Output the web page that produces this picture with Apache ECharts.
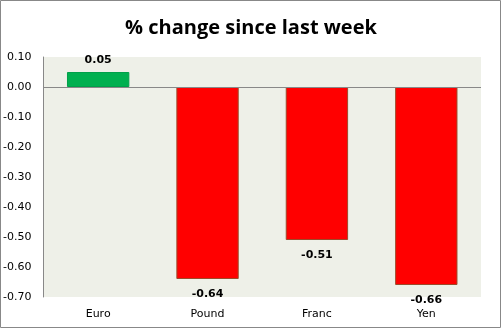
<!DOCTYPE html>
<html>
<head>
<meta charset="utf-8">
<script src="https://cdn.jsdelivr.net/npm/echarts@6/dist/echarts.min.js"></script>
<style>
html,body{margin:0;padding:0;background:#fff;}
#c{width:502px;height:329px;}
</style>
</head>
<body>
<div id="c"></div>
<script>
var categories = ['Euro', 'Pound', 'Franc', 'Yen'];
var values = [0.05, -0.64, -0.51, -0.66];
var yTicks = [0.10, 0.00, -0.10, -0.20, -0.30, -0.40, -0.50, -0.60, -0.70];

var chart = echarts.init(document.getElementById('c'), null, {renderer: 'canvas'});
var data = values.map(function (v) {
  var pos = v >= 0;
  return {
    value: v,
    itemStyle: {
      color: pos ? '#00B050' : '#FF0000',
      borderColor: pos ? '#00A04A' : '#9C4A2A',
      borderWidth: 1
    },
    label: {position: pos ? 'top' : 'bottom', distance: pos ? 6 : 10}
  };
});
chart.setOption({
  animation: false,
  title: {
    text: '% change since last week',
    left: 'center',
    top: 13,
    textStyle: {fontFamily: 'Open Sans', fontWeight: 'bold', fontSize: 20, color: '#000'}
  },
  graphic: [{
    type: 'rect',
    shape: {x: 0.5, y: 0.5, width: 500, height: 327},
    style: {fill: 'none', stroke: '#888', lineWidth: 1},
    silent: true
  }],
  grid: {
    left: 42, right: 21, top: 57, bottom: 32,
    show: true, backgroundColor: '#EEF0E8', borderWidth: 0
  },
  xAxis: {
    type: 'category',
    data: categories,
    axisLine: {show: false, onZero: false},
    axisTick: {show: false},
    axisLabel: {fontFamily: 'DejaVu Sans', fontSize: 11, color: '#000', margin: 12}
  },
  yAxis: {
    type: 'value',
    min: yTicks[yTicks.length - 1],
    max: yTicks[0],
    interval: 0.1,
    axisLine: {show: true, lineStyle: {color: '#888', width: 1}},
    axisTick: {show: false},
    splitLine: {show: false},
    axisLabel: {
      fontFamily: 'DejaVu Sans', fontSize: 11, color: '#000', margin: 12,
      formatter: function (v) { return v.toFixed(2); }
    }
  },
  series: [{
    type: 'bar',
    data: data,
    barWidth: '57%',
    label: {
      show: true,
      fontFamily: 'DejaVu Sans', fontWeight: 'bold', fontSize: 11, color: '#000',
      formatter: function (p) { return p.value.toFixed(2); }
    },
    markLine: {
      silent: true,
      symbol: 'none',
      label: {show: false},
      lineStyle: {color: '#888', type: 'solid', width: 1},
      data: [{yAxis: 0}]
    }
  }]
});
</script>
</body>
</html>
